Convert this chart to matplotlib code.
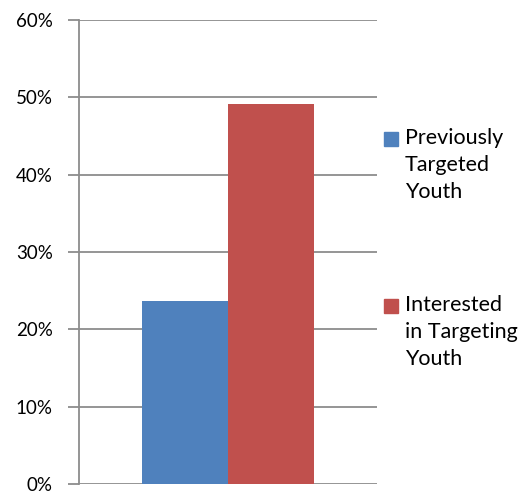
import matplotlib
matplotlib.use("Agg")
import matplotlib.pyplot as plt
from matplotlib.patches import Rectangle
from matplotlib.ticker import FuncFormatter

# Share of organisations (percent)
series_names = ["Previously\nTargeted\nYouth", "Interested\nin Targeting\nYouth"]
series_values = [23.7, 49.1]
series_colors = ["#4F81BD", "#C0504D"]
y_ticks = [0, 10, 20, 30, 40, 50, 60]

plt.rcParams["font.family"] = ["Lato", "DejaVu Sans"]

W, H, DPI = 521, 492, 100
fig = plt.figure(figsize=(W / DPI, H / DPI), dpi=DPI)
ax = fig.add_axes([79 / W, 1 - 484 / H, (377 - 79) / W, (484 - 20) / H])

bar_w = 86 / 298
offsets = [-bar_w / 2, bar_w / 2]
for off, val, col in zip(offsets, series_values, series_colors):
    ax.bar(off, val, width=bar_w, color=col, zorder=3)

ax.set_xlim(-0.5, 0.5)
ax.set_ylim(0, 60)
ax.set_yticks(y_ticks)
ax.yaxis.set_major_formatter(FuncFormatter(lambda v, p: f"{v:.0f}%"))
ax.set_xticks([])

grid_col = "#8c8c8c"
ax.yaxis.grid(True, color=grid_col, linewidth=1.3, zorder=1)
ax.tick_params(axis="y", length=8, width=1.3, color=grid_col, pad=11,
               labelsize=13.5, labelcolor="#000000")
for s in ["top", "right", "bottom"]:
    ax.spines[s].set_visible(False)
ax.spines["left"].set_color(grid_col)
ax.spines["left"].set_linewidth(1.3)

# Legend: square aligned with the first line of each label
entry_tops = [132, 299]
for name, col, top in zip(series_names, series_colors, entry_tops):
    fig.patches.append(Rectangle((384 / W, 1 - (top + 14) / H), 14 / W, 14 / H,
                                 transform=fig.transFigure, color=col))
    fig.text(405 / W, 1 - (top - 4) / H, name, ha="left", va="top",
             fontsize=15.5, linespacing=1.45, color="#000000")

fig.savefig("out.png", dpi=DPI)
